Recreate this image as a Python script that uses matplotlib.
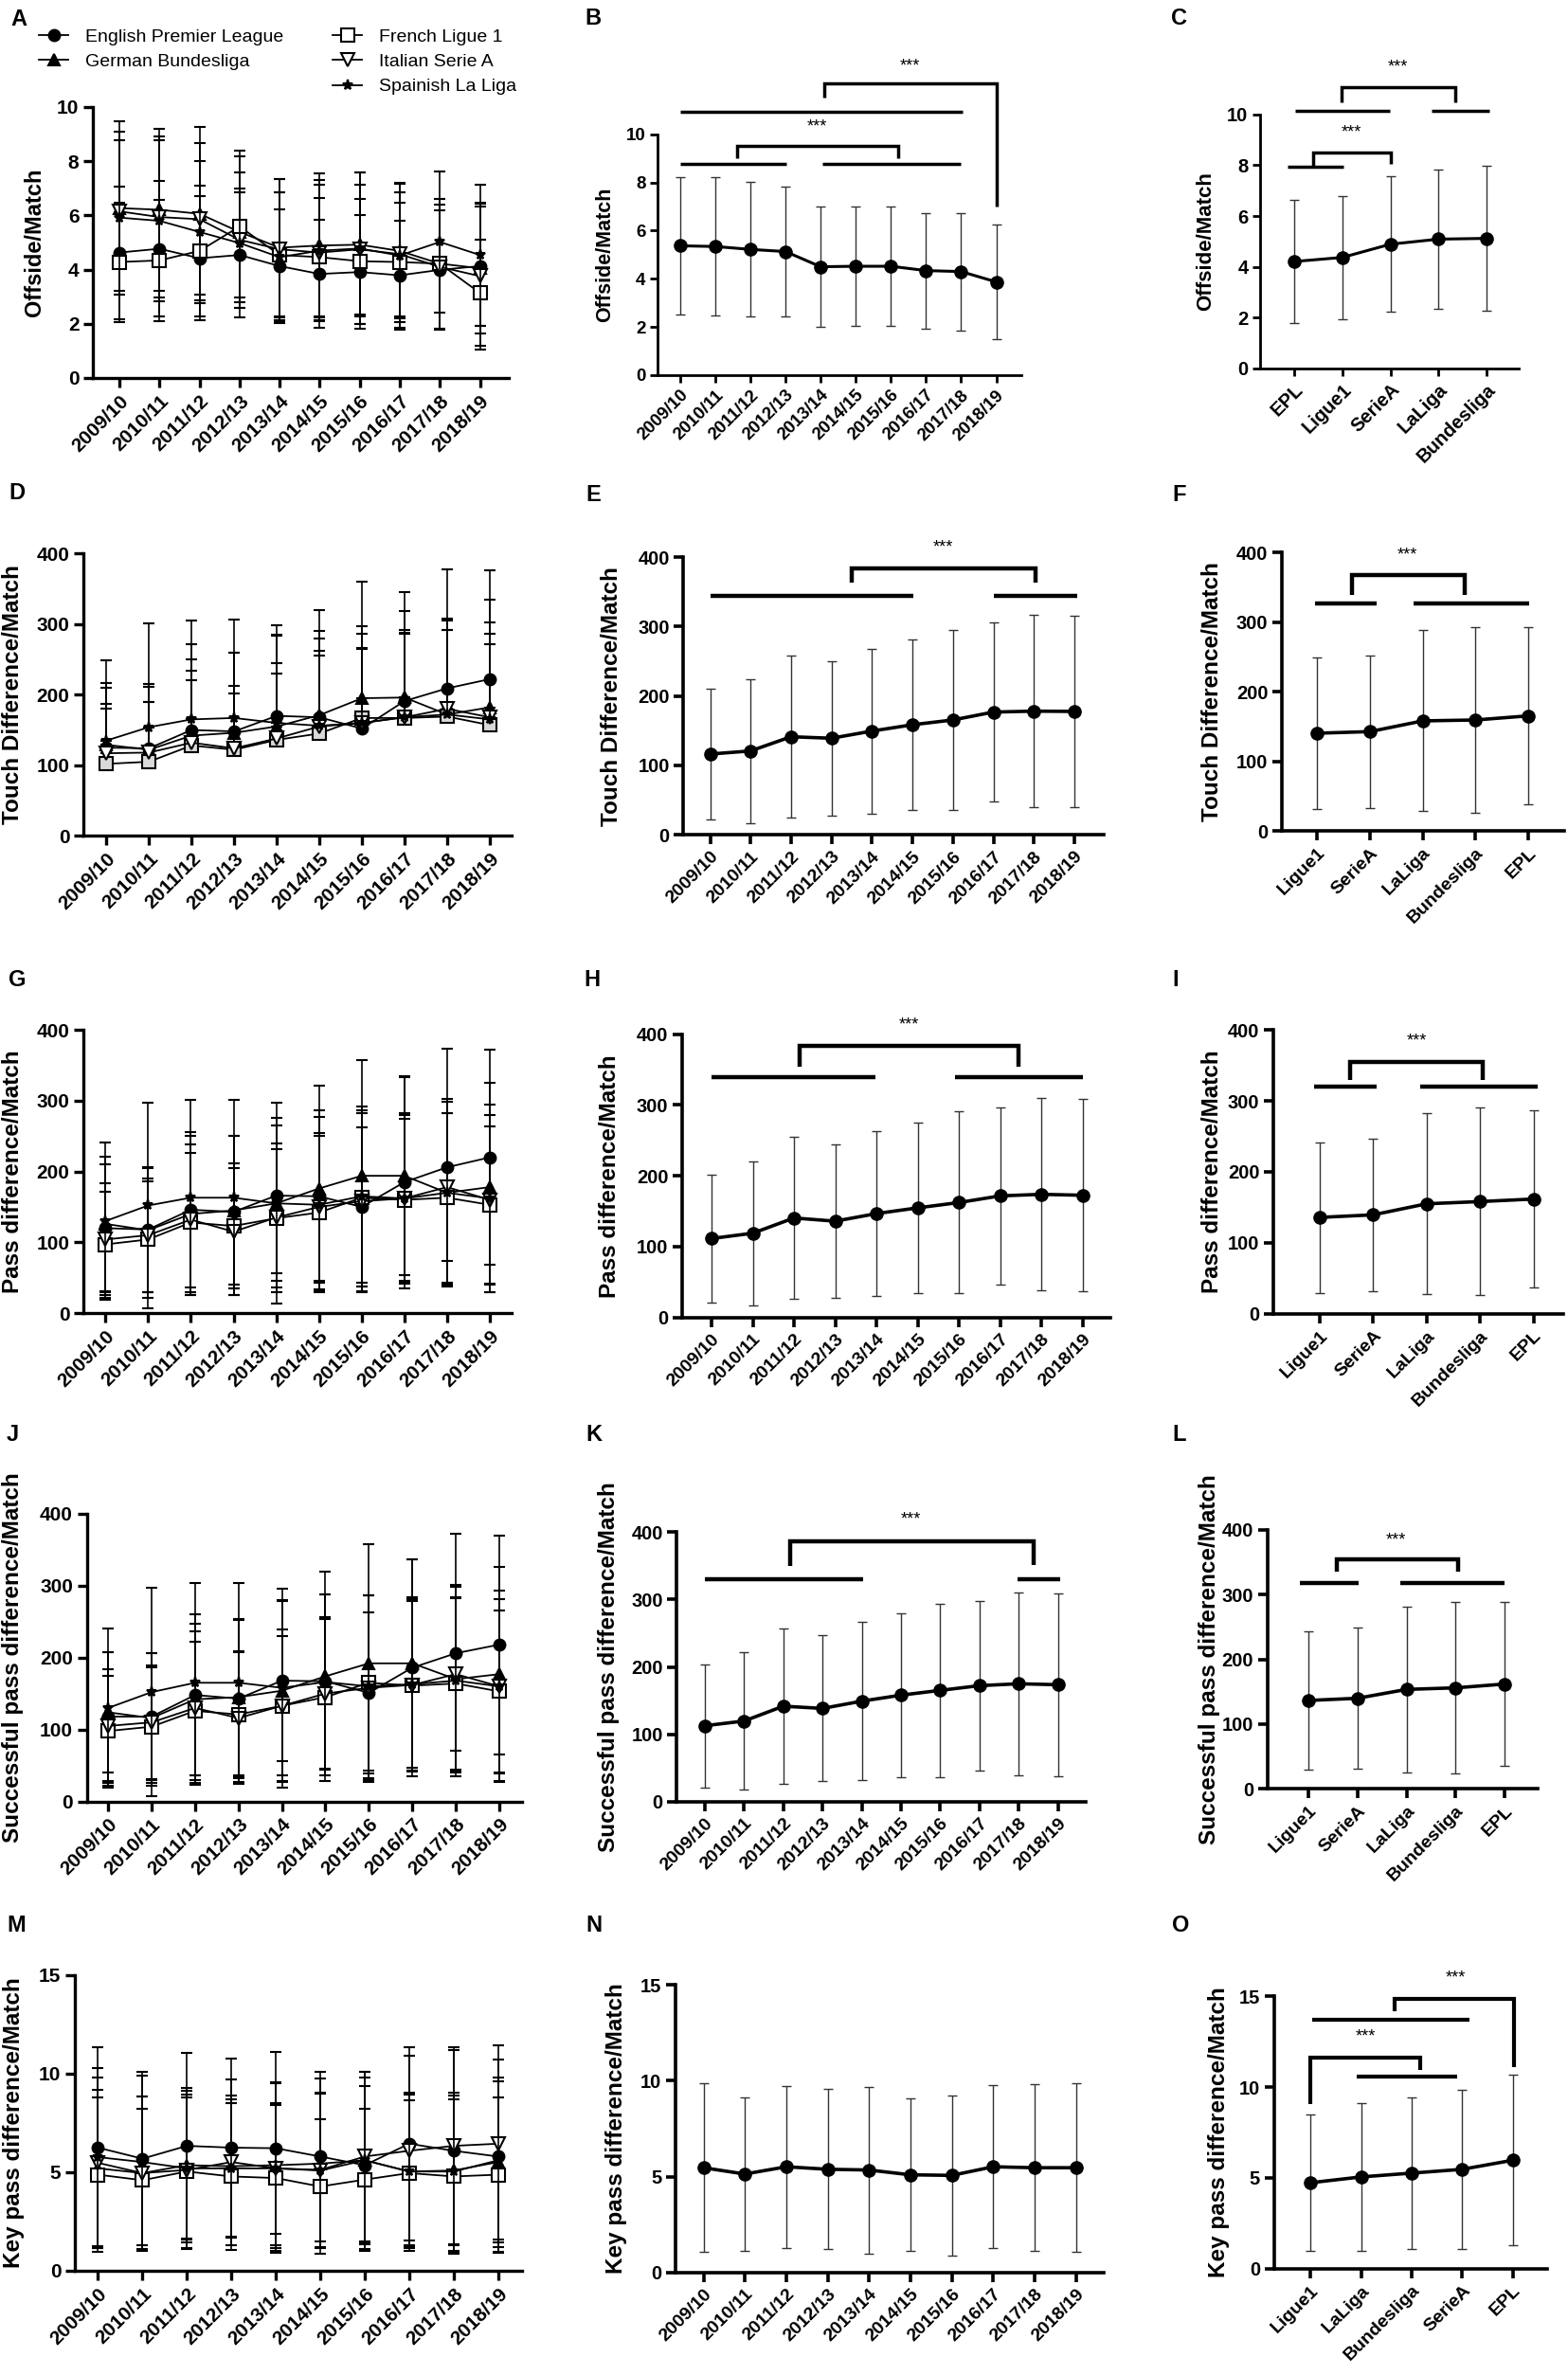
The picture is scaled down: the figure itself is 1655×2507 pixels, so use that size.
import numpy as np
import matplotlib.pyplot as plt
from matplotlib.lines import Line2D

plt.rcParams['font.family'] = ['Liberation Sans', 'DejaVu Sans']

W, H = 1655, 2507

seasons = ['2009/10', '2010/11', '2011/12', '2012/13', '2013/14',
           '2014/15', '2015/16', '2016/17', '2017/18', '2018/19']
league_names = ['English Premier League', 'German Bundesliga', 'French Ligue 1',
                'Italian Serie A', 'Spainish La Liga']
leagues_c = ['EPL', 'Ligue1', 'SerieA', 'LaLiga', 'Bundesliga']
leagues_fil = ['Ligue1', 'SerieA', 'LaLiga', 'Bundesliga', 'EPL']
leagues_o = ['Ligue1', 'LaLiga', 'Bundesliga', 'SerieA', 'EPL']

# rows: EPL, Bundesliga, Ligue 1, Serie A, La Liga
offside_mean = [[4.63, 4.77, 4.42, 4.54, 4.13, 3.84, 3.91, 3.79, 3.99, 4.13],
                [6.27, 6.21, 6.06, 5.39, 4.81, 4.89, 4.92, 4.69, 4.22, 4.05],
                [4.28, 4.34, 4.69, 5.59, 4.54, 4.46, 4.31, 4.28, 4.22, 3.14],
                [6.15, 5.94, 5.86, 5.10, 4.75, 4.63, 4.75, 4.57, 4.10, 3.76],
                [5.92, 5.80, 5.39, 4.98, 4.46, 4.70, 4.78, 4.52, 5.02, 4.54]]
offside_sd = [[2.45, 2.5, 2.3, 2.3, 2.1, 2.0, 2.1, 2.0, 2.2, 2.2],
              [3.2, 3.0, 3.2, 2.8, 2.55, 2.65, 2.65, 2.5, 2.4, 2.4],
              [2.2, 2.25, 2.4, 2.8, 2.3, 2.2, 2.3, 2.2, 2.4, 1.95],
              [2.95, 2.98, 2.8, 2.5, 2.6, 2.5, 2.4, 2.3, 2.3, 2.7],
              [2.85, 2.97, 2.63, 2.0, 2.4, 2.6, 2.8, 2.65, 2.6, 2.6]]
offside_season_mean = [5.37, 5.34, 5.22, 5.13, 4.50, 4.52, 4.52, 4.34, 4.30, 3.87]
offside_season_sd = [2.86, 2.87, 2.80, 2.70, 2.48, 2.49, 2.46, 2.40, 2.44, 2.39]
offside_league_mean = [4.21, 4.37, 4.89, 5.09, 5.12]
offside_league_sd = [2.42, 2.43, 2.67, 2.73, 2.84]

touch_mean = [[125, 124, 150, 148, 170, 168, 152, 191, 209, 222],
              [129, 122, 142, 146, 155, 171, 195, 196, 172, 182],
              [102, 105, 128, 122, 136, 145, 167, 167, 169, 157],
              [117, 118, 132, 124, 138, 155, 160, 168, 180, 168],
              [135, 154, 165, 167, 160, 156, 160, 168, 172, 165]]
touch_sd = [[124, 177, 155, 159, 128, 152, 208, 155, 169, 154],
            [81, 89, 130, 114, 130, 119, 102, 122, 136, 152],
            [78, 85, 92, 80, 94, 111, 98, 119, 123, 114],
            [70, 72, 102, 88, 107, 107, 106, 119, 112, 118],
            [81, 61, 85, 93, 124, 124, 126, 124, 133, 137]]
touch_season_mean = [116.2, 120.7, 141.2, 139.0, 149.4, 158.5, 165.4, 176.8, 178.1, 177.7]
touch_season_sd = [93.9, 103.7, 116.5, 111.4, 118.9, 122.6, 129.4, 129.0, 138.5, 137.8]
touch_league_mean = [140.6, 142.9, 158.3, 159.6, 165.5]
touch_league_sd = [108.6, 109.3, 130.0, 133.5, 127.5]

pass_mean = [[120, 118, 146, 143, 166, 165, 150, 185, 206, 220],
             [126, 117, 140, 145, 155, 176, 194, 194, 170, 178],
             [97, 104, 128, 123, 134, 142, 163, 160, 163, 153],
             [104, 110, 132, 115, 135, 150, 158, 162, 178, 160],
             [130, 152, 163, 163, 155, 153, 165, 162, 170, 162]]
pass_sd = [[90, 88, 110, 108, 110, 122, 112, 150, 167, 152],
           [95, 88, 110, 105, 110, 145, 163, 140, 129, 148],
           [75, 82, 98, 88, 98, 108, 120, 115, 120, 111],
           [79, 80, 106, 90, 105, 105, 128, 118, 105, 120],
           [111, 145, 138, 138, 142, 124, 127, 120, 133, 133]]
pass_season_mean = [111.5, 119.0, 140.5, 136.0, 146.7, 154.8, 162.3, 171.7, 173.9, 172.6]
pass_season_sd = [90.3, 101.5, 114.4, 108.2, 116.2, 120.7, 128.3, 125.3, 135.4, 135.6]
pass_league_mean = [135.8, 139.4, 155.0, 158.1, 161.7]
pass_league_sd = [106.2, 107.6, 127.4, 132.3, 125.0]

succ_mean = [[118, 118, 148, 143, 168, 167, 151, 186, 206, 218],
             [124, 116, 142, 145, 154, 174, 192, 192, 170, 177],
             [98, 104, 126, 121, 133, 145, 165, 161, 164, 153],
             [105, 110, 130, 116, 133, 150, 158, 162, 177, 160],
             [130, 152, 165, 165, 158, 166, 160, 163, 168, 160]]
succ_sd = [[89, 88, 112, 109, 112, 121, 112, 151, 166, 152],
           [84, 90, 105, 108, 125, 145, 165, 145, 128, 149],
           [76, 82, 96, 88, 97, 108, 122, 118, 120, 112],
           [79, 79, 107, 91, 106, 106, 128, 119, 106, 121],
           [111, 145, 139, 138, 138, 122, 127, 121, 133, 133]]
succ_season_mean = [112.6, 119.6, 141.6, 138.3, 149.1, 158.0, 165.1, 172.1, 174.9, 173.5]
succ_season_sd = [91.5, 102.0, 114.9, 108.4, 117.3, 121.2, 129.0, 125.5, 135.5, 135.5]
succ_league_mean = [136.6, 140.0, 153.7, 156.1, 162.0]
succ_league_sd = [107.3, 108.6, 128.0, 132.5, 126.1]

key_mean = [[6.24, 5.68, 6.33, 6.24, 6.21, 5.79, 5.35, 6.44, 6.08, 5.79],
            [5.19, 4.95, 5.35, 5.30, 5.35, 5.43, 5.60, 5.03, 5.08, 5.51],
            [4.87, 4.59, 5.03, 4.78, 4.70, 4.27, 4.62, 4.95, 4.78, 4.87],
            [5.47, 4.95, 5.11, 5.51, 5.19, 5.11, 5.79, 6.08, 6.33, 6.44],
            [5.76, 5.51, 5.19, 5.19, 5.19, 5.08, 5.60, 5.03, 5.03, 5.60]]
key_sd = [[5.1, 4.4, 4.7, 4.5, 4.9, 4.3, 4.0, 4.9, 5.1, 4.9],
          [4.0, 3.9, 3.9, 3.6, 4.2, 4.3, 4.5, 3.9, 3.8, 4.3],
          [3.9, 3.6, 3.9, 3.7, 3.7, 3.4, 3.6, 3.7, 3.9, 3.9],
          [4.3, 3.9, 4.0, 4.2, 4.3, 3.9, 4.3, 4.8, 5.0, 5.0],
          [4.5, 4.4, 3.6, 3.5, 3.3, 3.9, 4.2, 4.0, 4.0, 4.0]]
key_season_mean = [5.46, 5.13, 5.51, 5.38, 5.34, 5.09, 5.06, 5.51, 5.46, 5.46]
key_season_sd = [4.39, 4.01, 4.22, 4.18, 4.35, 3.97, 4.19, 4.26, 4.35, 4.41]
key_league_mean = [4.73, 5.05, 5.26, 5.47, 5.97]
key_league_sd = [3.75, 4.08, 4.18, 4.37, 4.70]

fig = plt.figure(figsize=(W / 100, H / 100), dpi=100)

markers = [('o', 8.5, 'black'), ('^', 9, 'black'), ('s', 10, 'white'),
           ('v', 9.5, 'white'), ('*', 8, 'black')]


def new_axes(box, first_tick, last_tick, n, ymax):
    left, right, top, bottom = box
    ax = fig.add_axes([left / W, 1 - bottom / H, (right - left) / W, (bottom - top) / H])
    step = (last_tick - first_tick) / (n - 1)
    ax.set_xlim((left - first_tick) / step, (right - first_tick) / step)
    ax.set_ylim(0, ymax)
    ax.spines[['top', 'right']].set_visible(False)
    ax.patch.set_alpha(0)
    return ax


def dress(ax, box, labels, yticks, ylabel, label_x, xfs, yfs, lfs, lw=2.4, tlen=7.5):
    left, right = box[0], box[1]
    ax.set_xticks(range(len(labels)), labels, rotation=45, ha='right',
                  rotation_mode='anchor', fontsize=xfs, fontweight='bold')
    ax.set_yticks(yticks, [str(t) for t in yticks], fontsize=yfs, fontweight='bold')
    ax.tick_params(width=lw, length=tlen, pad=3, color='black')
    for s in ['left', 'bottom']:
        ax.spines[s].set_linewidth(lw)
    ax.set_ylabel(ylabel, fontsize=lfs, fontweight='bold', va='center')
    ax.yaxis.set_label_coords((label_x - left) / (right - left), 0.5)


def league_lines(ax, means, sds, upper_only=False, square_face='white'):
    x = np.arange(len(seasons))
    for i in range(len(means)):
        mk, ms, fc = markers[i]
        if mk == 's':
            fc = square_face
        s = np.array(sds[i], dtype=float)
        err = [np.zeros_like(s), s] if upper_only else s
        ax.errorbar(x, means[i], yerr=err, color='black', lw=1.3, marker=mk, ms=ms,
                    mfc=fc, mec='black', mew=1.5, ecolor='black', elinewidth=1.2,
                    capsize=4.5, capthick=1.2, clip_on=False, zorder=3 + i * 0.1)


def mean_line(ax, means, sds, ms=9.5, lw=2.2, cap=3.8):
    x = np.arange(len(means))
    ax.errorbar(x, means, yerr=sds, color='black', lw=lw, marker='o', ms=ms,
                ecolor='#333333', elinewidth=1.0, capsize=cap, capthick=1.0,
                clip_on=False, zorder=3)


def bar(ax, x0, x1, y, lw):
    ax.plot([x0, x1], [y, y], color='black', lw=lw, clip_on=False, solid_capstyle='butt')


def bracket(ax, x0, x1, y, y0, y1, lw):
    ax.plot([x0, x0, x1, x1], [y0, y, y, y1], color='black', lw=lw, clip_on=False,
            solid_capstyle='butt', solid_joinstyle='miter')


def stars(ax, x, y, fs=13):
    ax.annotate('***', (x, y), xytext=(0, -3), textcoords='offset points',
                ha='center', va='center', fontsize=fs, annotation_clip=False)


def letter(x, y, s):
    fig.text(x / W, 1 - (y - 4) / H, s, fontsize=17, fontweight='bold', ha='left', va='top')


n_s = len(seasons)

# ---- row 1: offside
box = (98, 537, 113, 399)
ax = new_axes(box, 126, 506.5, n_s, 10)
league_lines(ax, offside_mean, offside_sd)
dress(ax, box, seasons, [0, 2, 4, 6, 8, 10], 'Offside/Match', 37, 15, 15, 17)

handles = []
for i in range(len(league_names)):
    mk, ms, fc = markers[i]
    handles.append(Line2D([], [], color='black', lw=1.3, marker=mk, ms=ms, mfc=fc,
                          mec='black', mew=1.5))
blank = Line2D([], [], color='none')
fig.legend([handles[0], handles[1], blank, handles[2], handles[3], handles[4]],
           [league_names[0], league_names[1], '', league_names[2], league_names[3],
            league_names[4]],
           ncol=2, loc='upper left', bbox_to_anchor=(41 / W, 1 - 30 / H), frameon=False,
           fontsize=14, handlelength=1.6, handletextpad=0.9, columnspacing=2.7,
           labelspacing=0.45, borderpad=0, borderaxespad=0)

box = (694, 1078, 141.7, 396)
ax = new_axes(box, 718, 1051.5, n_s, 10)
mean_line(ax, offside_season_mean, offside_season_sd)
dress(ax, box, seasons, [0, 2, 4, 6, 8, 10], 'Offside/Match', 639, 13.5, 13.5, 15.5, lw=2.0, tlen=6)
bracket(ax, 4.09, 9.0, 12.1, 11.51, 6.99, 2.5)
bar(ax, 0, 8.03, 10.92, 2.5)
bracket(ax, 1.62, 6.22, 9.52, 9.02, 9.02, 2.5)
bar(ax, 0, 3.01, 8.78, 2.5)
bar(ax, 4.04, 8.0, 8.78, 2.5)
stars(ax, 6.54, 13.0)
stars(ax, 3.9, 10.46)

box = (1330, 1603, 120.7, 389)
ax = new_axes(box, 1366, 1569, len(leagues_c), 10)
mean_line(ax, offside_league_mean, offside_league_sd)
dress(ax, box, leagues_c, [0, 2, 4, 6, 8, 10], 'Offside/Match', 1272.5, 14.5, 14.5, 16, lw=2.0, tlen=6)
bracket(ax, 0.99, 3.34, 11.08, 10.46, 10.46, 2.5)
bar(ax, 0.01, 1.99, 10.13, 2.5)
bar(ax, 2.86, 4.05, 10.13, 2.5)
bracket(ax, 0.40, 2.01, 8.5, 7.94, 8.04, 2.5)
bar(ax, -0.14, 1.03, 7.94, 2.5)
stars(ax, 2.15, 12.0)
stars(ax, 1.19, 9.43)

# ---- row 2: touch difference
box = (88, 540, 584.3, 882.3)
ax = new_axes(box, 112.3, 516.9, n_s, 400)
league_lines(ax, touch_mean, touch_sd, upper_only=True, square_face='#d9d9d9')
dress(ax, box, seasons, [0, 100, 200, 300, 400], 'Touch Difference/Match', 13.5, 15, 15, 17.5)

box = (721.4, 1165, 588.3, 881)
ax = new_axes(box, 749.5, 1134, n_s, 400)
mean_line(ax, touch_season_mean, touch_season_sd, lw=2.6)
dress(ax, box, seasons, [0, 100, 200, 300, 400], 'Touch Difference/Match', 645, 14, 14.5, 17.5, lw=2.6)
bar(ax, 0, 5.01, 344.4, 3.2)
bar(ax, 7.02, 9.07, 344.4, 3.2)
bracket(ax, 3.5, 8.05, 384, 363.5, 363.5, 3.2)
stars(ax, 5.75, 419.5)

box = (1353, 1651, 583.3, 877.3)
ax = new_axes(box, 1390.3, 1612.9, len(leagues_fil), 400)
mean_line(ax, touch_league_mean, touch_league_sd, lw=2.6)
dress(ax, box, leagues_fil, [0, 100, 200, 300, 400], 'Touch Difference/Match', 1279.5, 14, 14.5, 17.5, lw=2.6)
bar(ax, -0.04, 1.12, 327.4, 3.2)
bar(ax, 1.83, 4.02, 327.4, 3.2)
bracket(ax, 0.66, 2.8, 368, 339.4, 339.4, 3.2)
stars(ax, 1.7, 402)

# ---- row 3: pass difference
box = (88, 540, 1087.3, 1386)
ax = new_axes(box, 111.3, 516.9, n_s, 400)
league_lines(ax, pass_mean, pass_sd)
dress(ax, box, seasons, [0, 100, 200, 300, 400], 'Pass difference/Match', 13.5, 15, 15, 17.5)

box = (720, 1172, 1091.7, 1390.7)
ax = new_axes(box, 751, 1142.6, n_s, 400)
mean_line(ax, pass_season_mean, pass_season_sd, lw=2.6)
dress(ax, box, seasons, [0, 100, 200, 300, 400], 'Pass difference/Match', 644, 14, 14.5, 17.5, lw=2.6)
bar(ax, 0, 3.97, 339.8, 3.2)
bar(ax, 5.9, 9.0, 339.8, 3.2)
bracket(ax, 2.14, 7.44, 383.5, 354, 354, 3.2)
stars(ax, 4.8, 418)

box = (1344, 1650, 1087.3, 1386.7)
ax = new_axes(box, 1393, 1618.5, len(leagues_fil), 400)
mean_line(ax, pass_league_mean, pass_league_sd, lw=2.6)
dress(ax, box, leagues_fil, [0, 100, 200, 300, 400], 'Pass difference/Match', 1279.5, 14, 14.5, 17.5, lw=2.6)
bar(ax, -0.11, 1.07, 319.8, 3.2)
bar(ax, 1.88, 4.08, 319.8, 3.2)
bracket(ax, 0.56, 3.05, 355.4, 329.6, 329.6, 3.2)
stars(ax, 1.81, 390.6)

# ---- row 4: successful pass difference
box = (91.5, 551, 1597.7, 1901.7)
ax = new_axes(box, 114.1, 527, n_s, 400)
league_lines(ax, succ_mean, succ_sd)
dress(ax, box, seasons, [0, 100, 200, 300, 400], 'Successful pass difference/Match', 13.8, 15, 15, 17.5)

box = (714.4, 1146, 1617.3, 1901.7)
ax = new_axes(box, 744, 1116.6, n_s, 400)
mean_line(ax, succ_season_mean, succ_season_sd, lw=2.6)
dress(ax, box, seasons, [0, 100, 200, 300, 400], 'Successful pass difference/Match', 643, 14, 14.5, 17.5, lw=2.6)
bar(ax, 0, 4.03, 330.5, 3.2)
bar(ax, 7.98, 9.07, 330.5, 3.2)
bracket(ax, 2.17, 8.39, 386, 349.4, 351.6, 3.2)
stars(ax, 5.25, 424.3)

box = (1337.7, 1623, 1615, 1888.3)
ax = new_axes(box, 1381, 1588.3, len(leagues_fil), 400)
mean_line(ax, succ_league_mean, succ_league_sd, lw=2.6)
dress(ax, box, leagues_fil, [0, 100, 200, 300, 400], 'Successful pass difference/Match', 1276, 14, 14.5, 17.5, lw=2.6)
bar(ax, -0.17, 1.02, 318.5, 3.2)
bar(ax, 1.87, 4.0, 318.5, 3.2)
bracket(ax, 0.57, 3.05, 355.1, 335, 335, 3.2)
stars(ax, 1.79, 390.2)

# ---- row 5: key pass difference
box = (79, 551, 2084.5, 2397)
ax = new_axes(box, 103.4, 525.8, n_s, 15)
league_lines(ax, key_mean, key_sd)
dress(ax, box, seasons, [0, 5, 10, 15], 'Key pass difference/Match', 14.4, 15, 15, 17.5)

box = (713, 1165, 2095.3, 2398.6)
ax = new_axes(box, 742.5, 1135.6, n_s, 15)
mean_line(ax, key_season_mean, key_season_sd, lw=2.6)
dress(ax, box, seasons, [0, 5, 10, 15], 'Key pass difference/Match', 651, 14, 14.5, 17.5, lw=2.6)

box = (1344.7, 1632.5, 2107.4, 2394.6)
ax = new_axes(box, 1383.3, 1596.7, len(leagues_o), 15)
mean_line(ax, key_league_mean, key_league_sd, lw=2.6)
dress(ax, box, leagues_o, [0, 5, 10, 15], 'Key pass difference/Match', 1286, 14, 14.5, 17.5, lw=2.6)
bracket(ax, 1.67, 4.02, 14.87, 14.17, 11.08, 3.0)
bar(ax, 0.03, 3.15, 13.73, 3.0)
bracket(ax, -0.01, 2.17, 11.65, 9.05, 10.94, 3.0)
bar(ax, 0.92, 2.9, 10.58, 3.0)
stars(ax, 2.86, 16.23)
stars(ax, 1.08, 12.98)

for (lx, ly, s) in [(11, 13, 'A'), (617, 12, 'B'), (1236, 12, 'C'),
                    (9, 513, 'D'), (618, 515, 'E'), (1237, 515, 'F'),
                    (9, 1027, 'G'), (616, 1027, 'H'), (1237, 1027, 'I'),
                    (7, 1507, 'J'), (618, 1507, 'K'), (1237, 1507, 'L'),
                    (7, 2025, 'M'), (618, 2025, 'N'), (1237, 2025, 'O')]:
    letter(lx, ly, s)

fig.savefig('out.png', dpi=100)
